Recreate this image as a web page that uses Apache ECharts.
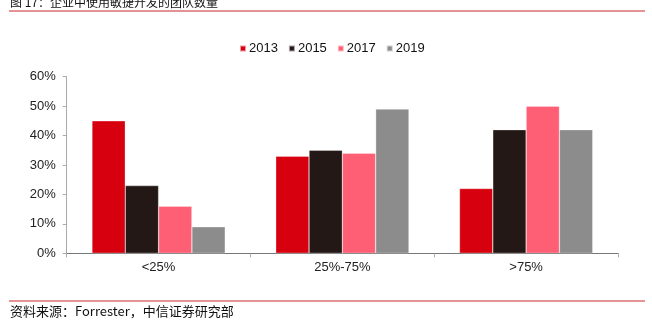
<!DOCTYPE html>
<html><head><meta charset="utf-8">
<script src="https://cdn.jsdelivr.net/npm/echarts@6/dist/echarts.min.js"></script>
<style>html,body{margin:0;padding:0;background:#fff}#c{width:652px;height:329px}</style>
</head><body><div id="c"></div>
<script>
const categories = ['<25%', '25%-75%', '>75%'];
const seriesNames = ['2013', '2015', '2017', '2019'];
const v2013 = [45, 33, 22];
const v2015 = [23, 35, 42];
const v2017 = [16, 34, 50];
const v2019 = [9, 49, 42];
const yTicks = [0, 10, 20, 30, 40, 50, 60];
const titleText = '图 17：企业中使用敏捷开发的团队数量';
const sourceText = '资料来源：Forrester，中信证券研究部';

const colors = ['#D7000F', '#231815', '#FF5F75', '#8C8C8C'];
const values = [v2013, v2015, v2017, v2019];
const FF = '"Liberation Sans", Arial, "Noto Sans CJK SC", sans-serif';

const chart = echarts.init(document.getElementById('c'), null, {renderer: 'canvas'});
chart.setOption({
  animation: false,
  textStyle: {fontFamily: FF},
  legend: {
    top: 37, left: 234,
    itemWidth: 6, itemHeight: 6, itemGap: 10,
    icon: 'rect',
    textStyle: {fontSize: 13, color: '#111', fontFamily: FF, padding: [0, 0, 0, -2]},
    data: seriesNames
  },
  grid: {left: 66.7, right: 34, top: 76.7, bottom: 75.7, containLabel: false},
  xAxis: {
    type: 'category', data: categories,
    axisLine: {lineStyle: {color: '#777', width: 1}},
    axisTick: {show: true, length: 4, lineStyle: {color: '#aaa'}},
    axisLabel: {fontSize: 13, color: '#222', margin: 8, fontFamily: FF}
  },
  yAxis: {
    type: 'value', min: yTicks[0], max: yTicks[yTicks.length - 1], interval: 10,
    splitLine: {show: false},
    axisLine: {show: true, lineStyle: {color: '#aaa', width: 1}},
    axisTick: {show: true, length: 4, lineStyle: {color: '#aaa'}},
    axisLabel: {fontSize: 13, color: '#222', margin: 11, formatter: v => v + '%', fontFamily: FF}
  },
  series: seriesNames.map((n, i) => ({
    name: n, type: 'bar', data: values[i],
    barGap: '0%', barCategoryGap: '27.5%',
    itemStyle: {color: colors[i], borderColor: 'rgba(255,255,255,0.6)', borderWidth: 0.5}
  })),
  graphic: [
    {type: 'text', left: 10, top: -4, style: {text: titleText, fontSize: 12, fill: '#111', fontFamily: '"Noto Sans CJK SC", sans-serif'}},
    {type: 'line', shape: {x1: 9, y1: 11, x2: 645, y2: 11}, style: {stroke: '#C8282B', lineWidth: 1}},
    {type: 'line', shape: {x1: 9, y1: 301, x2: 645, y2: 301}, style: {stroke: '#C8282B', lineWidth: 1}},
    {type: 'text', left: 10, top: 305, style: {text: sourceText, fontSize: 13, fill: '#111', fontFamily: '"Noto Sans CJK SC", sans-serif'}}
  ]
});
</script></body></html>
